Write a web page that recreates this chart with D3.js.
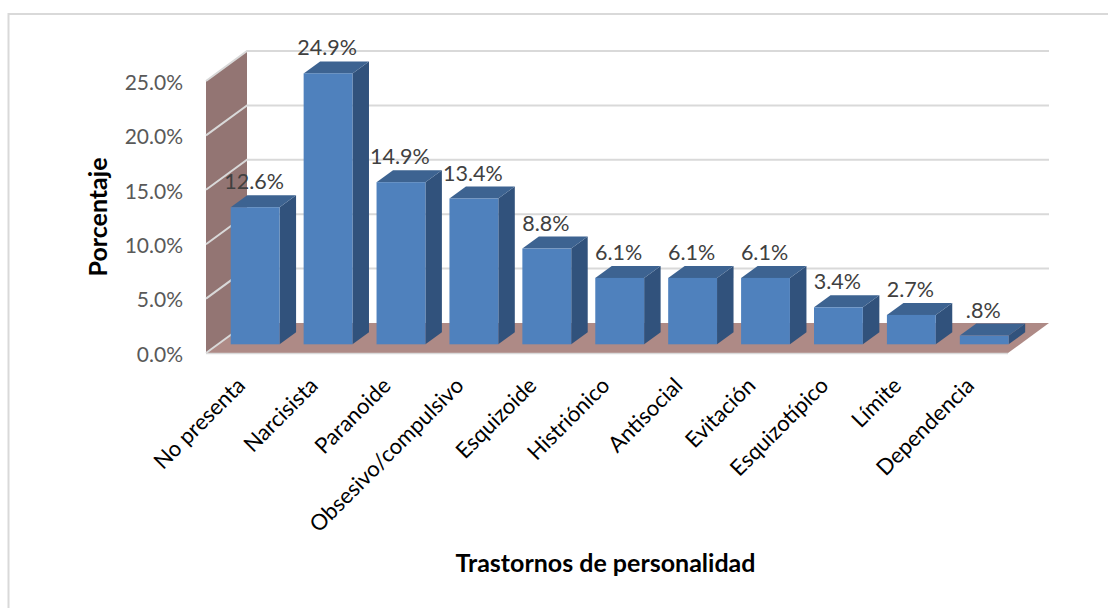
<!DOCTYPE html>
<html lang="es">
<head>
<meta charset="utf-8">
<title>Trastornos de personalidad</title>
<script src="https://cdn.jsdelivr.net/npm/d3@7"></script>
<style>
  html, body { margin: 0; padding: 0; background: #fff; }
  svg { display: block; font-family: Lato, "Open Sans", sans-serif; }
</style>
</head>
<body>
<div class="js-chart"></div>
<script>
  'use strict';

  /* ------------------------------------------------------------ *\
      Chart values
  \* ------------------------------------------------------------ */

  var categories = ['No presenta', 'Narcisista', 'Paranoide', 'Obsesivo/compulsivo', 'Esquizoide',
    'Histriónico', 'Antisocial', 'Evitación', 'Esquizotípico', 'Límite', 'Dependencia'];
  var values = [12.6, 24.9, 14.9, 13.4, 8.8, 6.1, 6.1, 6.1, 3.4, 2.7, 0.8];
  var valueLabels = ['12.6%', '24.9%', '14.9%', '13.4%', '8.8%', '6.1%', '6.1%', '6.1%', '3.4%', '2.7%', '.8%'];
  var yTicks = [0, 5, 10, 15, 20, 25];

  /* ------------------------------------------------------------ *\
      Some layout variables
  \* ------------------------------------------------------------ */

  var width = 1108;
  var height = 608;
  var plotLeft = 206;
  var plotRight = 1008;
  var plotBottom = 353;
  var plotTop = 81;
  var wallDx = 41;
  var wallDy = -30;
  var barShiftX = 12.7;
  var barShiftY = -8.7;
  var barDx = 16.5;
  var barDy = -12;

  var wallColour = '#937573';
  var floorColour = '#ae8a86';
  var gridColour = '#d9d9d9';
  var barFront = '#4f81bd';
  var barTop = '#3d6391';
  var barSide = '#31527c';

  /* ------------------------------------------------------------ *\
      Scales
  \* ------------------------------------------------------------ */

  var x = d3.scaleBand()
    .domain(categories)
    .range([plotLeft, plotRight])
    .paddingInner(0.33)
    .paddingOuter(0.165);

  var y = d3.scaleLinear()
    .domain([0, 25])
    .range([plotBottom, plotTop]);

  var svg = d3.select('.js-chart')
    .append('svg')
    .attr('width', width)
    .attr('height', height)
    .attr('viewBox', '0 0 ' + width + ' ' + height);

  /* ------------------------------------------------------------ *\
      Outer frame, only the top and left edges are in the picture
  \* ------------------------------------------------------------ */

  svg.append('path')
    .attr('d', 'M 8.5 ' + height + ' L 8.5 14 L ' + width + ' 14')
    .attr('fill', 'none')
    .attr('stroke', gridColour)
    .attr('stroke-width', 2);

  /* ------------------------------------------------------------ *\
      Wall and floor
  \* ------------------------------------------------------------ */

  var line = d3.line();

  svg.append('path')
    .attr('d', line([
      [plotLeft, y(0)],
      [plotLeft + wallDx, y(0) + wallDy],
      [plotLeft + wallDx, y(25) + wallDy],
      [plotLeft, y(25)]
    ]) + 'Z')
    .attr('fill', wallColour);

  svg.append('path')
    .attr('d', line([
      [plotLeft, y(0)],
      [plotLeft + wallDx, y(0) + wallDy],
      [plotRight + wallDx, y(0) + wallDy],
      [plotRight, y(0)]
    ]) + 'Z')
    .attr('fill', floorColour);

  /* ------------------------------------------------------------ *\
      Gridlines run along the wall, then along the back
  \* ------------------------------------------------------------ */

  svg.append('g')
    .selectAll('path')
    .data(yTicks)
    .join('path')
    .attr('d', function(d) {
      var points = [
        [plotLeft, y(d)],
        [plotLeft + wallDx, y(d) + wallDy]
      ];
      if (d > 0) points.push([plotRight + wallDx, y(d) + wallDy]);
      return line(points);
    })
    .attr('fill', 'none')
    .attr('stroke', gridColour)
    .attr('stroke-width', 2);

  // front edge of the floor
  svg.append('line')
    .attr('x1', plotLeft)
    .attr('x2', plotRight)
    .attr('y1', y(0) + 0.5)
    .attr('y2', y(0) + 0.5)
    .attr('stroke', gridColour)
    .attr('stroke-width', 1.5);

  /* ------------------------------------------------------------ *\
      Bars, each one is a side, a top and a front
  \* ------------------------------------------------------------ */

  var bars = svg.append('g')
    .selectAll('g')
    .data(values)
    .join('g')
    .attr('transform', 'translate(' + barShiftX + ',' + barShiftY + ')');

  bars.append('path')
    .attr('d', function(d, i) {
      var right = x(categories[i]) + x.bandwidth();
      return line([
        [right, y(d)],
        [right + barDx, y(d) + barDy],
        [right + barDx, y(0) + barDy],
        [right, y(0)]
      ]) + 'Z';
    })
    .attr('fill', barSide);

  bars.append('path')
    .attr('d', function(d, i) {
      var left = x(categories[i]);
      var right = left + x.bandwidth();
      return line([
        [left, y(d)],
        [left + barDx, y(d) + barDy],
        [right + barDx, y(d) + barDy],
        [right, y(d)]
      ]) + 'Z';
    })
    .attr('fill', barTop);

  bars.append('rect')
    .attr('x', function(d, i) { return x(categories[i]); })
    .attr('y', function(d) { return y(d); })
    .attr('width', x.bandwidth())
    .attr('height', function(d) { return y(0) - y(d); })
    .attr('fill', barFront);

  /* ------------------------------------------------------------ *\
      Value labels
  \* ------------------------------------------------------------ */

  svg.append('g')
    .selectAll('text')
    .data(values)
    .join('text')
    .attr('x', function(d, i) { return x(categories[i]) + x.bandwidth() / 2 + barShiftX - 1; })
    .attr('y', function(d) { return y(d) + barShiftY + barDy - 6; })
    .attr('text-anchor', 'middle')
    .attr('font-size', 21.5)
    .attr('fill', '#404040')
    .text(function(d, i) { return valueLabels[i]; });

  /* ------------------------------------------------------------ *\
      Axes
  \* ------------------------------------------------------------ */

  var yAxis = svg.append('g')
    .attr('transform', 'translate(' + plotLeft + ',0)')
    .call(d3.axisLeft(y)
      .tickValues(yTicks)
      .tickSize(0)
      .tickPadding(23)
      .tickFormat(function(d) { return d3.format('.1f')(d) + '%'; }));

  yAxis.select('.domain').remove();
  yAxis.selectAll('text')
    .attr('font-family', 'Lato, "Open Sans", sans-serif')
    .attr('font-size', 21)
    .attr('fill', '#595959')
    .attr('y', 1.5);

  var xAxis = svg.append('g')
    .attr('transform', 'translate(0,' + plotBottom + ')')
    .call(d3.axisBottom(x).tickSize(0).tickPadding(0));

  xAxis.select('.domain').remove();
  xAxis.selectAll('text')
    .attr('font-family', 'Lato, "Open Sans", sans-serif')
    .attr('font-size', 22)
    .attr('fill', '#000')
    .attr('text-anchor', 'end')
    .attr('dy', null)
    .attr('y', 0)
    .attr('transform', 'translate(4,34) rotate(-45)');

  /* ------------------------------------------------------------ *\
      Axis titles
  \* ------------------------------------------------------------ */

  svg.append('text')
    .attr('transform', 'translate(107,217) rotate(-90)')
    .attr('text-anchor', 'middle')
    .attr('font-size', 25)
    .attr('font-weight', 700)
    .attr('fill', '#000')
    .text('Porcentaje');

  svg.append('text')
    .attr('x', 605.5)
    .attr('y', 572)
    .attr('text-anchor', 'middle')
    .attr('font-size', 25)
    .attr('font-weight', 700)
    .attr('fill', '#000')
    .text('Trastornos de personalidad');
</script>
</body>
</html>
